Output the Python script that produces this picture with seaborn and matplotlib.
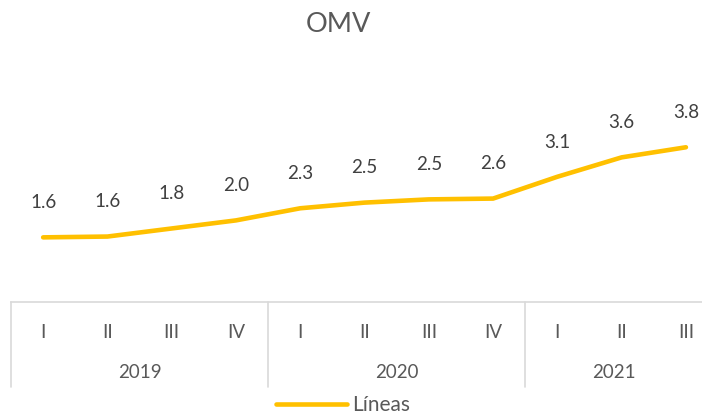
import matplotlib
matplotlib.use('Agg')
import matplotlib.pyplot as plt
import matplotlib.transforms as mtransforms
import pandas as pd
import seaborn as sns

sns.set_style('white')
plt.rcParams['font.family'] = ['Lato', 'DejaVu Sans']

quarters = ['I', 'II', 'III', 'IV', 'I', 'II', 'III', 'IV', 'I', 'II', 'III']
years = ['2019', '2020', '2021']
year_counts = [4, 4, 3]
lineas = [1.60, 1.62, 1.82, 2.02, 2.32, 2.46, 2.54, 2.56, 3.10, 3.58, 3.83]

df = pd.DataFrame({'idx': range(len(lineas)), 'value': lineas})

fig = plt.figure(figsize=(7.02, 4.19), dpi=100)
ax = fig.add_axes([11 / 702, 1 - 302 / 419, 691 / 702, 202 / 419])

sns.lineplot(x='idx', y='value', data=df, ax=ax, color='#FFC000', linewidth=3.3,
             solid_capstyle='round', solid_joinstyle='round', label='Líneas', legend=False)

# data labels
for i, v in zip(df.idx, df.value):
    ax.annotate(f'{v:.1f}', (i, v), xytext=(0, 25), textcoords='offset points',
                ha='center', va='center', fontsize=13.5, color='#404040')

xmax = 10.25
ax.set_xlim(-0.5, xmax)
ax.set_ylim(0, 5)
ax.set_xticks([])
ax.set_yticks([])
ax.set_xlabel('')
ax.set_ylabel('')
for s in ['top', 'right', 'left']:
    ax.spines[s].set_visible(False)
ax.spines['bottom'].set_color('#d9d9d9')
ax.spines['bottom'].set_linewidth(1.2)

trans = mtransforms.blended_transform_factory(ax.transData, ax.transAxes)

# quarter labels
for i, q in enumerate(quarters):
    ax.text(i, -0.149, q, transform=trans, ha='center', va='center',
            fontsize=13.5, color='#595959')

# year labels and separators
start = 0
ax.plot([-0.5, -0.5], [0, -0.42], transform=trans, color='#d9d9d9', lw=1.2, clip_on=False)
for y, n in zip(years, year_counts):
    left = start - 0.5
    right = min(start + n - 0.5, xmax)
    ax.text((left + right) / 2, -0.351, y, transform=trans, ha='center', va='center',
            fontsize=13.5, color='#595959')
    if start + n - 0.5 < xmax:
        ax.plot([right, right], [0, -0.42], transform=trans, color='#d9d9d9', lw=1.2,
                clip_on=False)
    start += n

fig.text(338 / 702, 1 - 25 / 419, 'OMV', ha='center', va='center', fontsize=19.5,
         color='#595959')

leg = fig.legend(loc='center', bbox_to_anchor=(343 / 702, 1 - 405 / 419), frameon=False,
                 handlelength=3.4, handletextpad=0.25, fontsize=15)
for t in leg.get_texts():
    t.set_color('#595959')

fig.savefig('out.png', dpi=100)
